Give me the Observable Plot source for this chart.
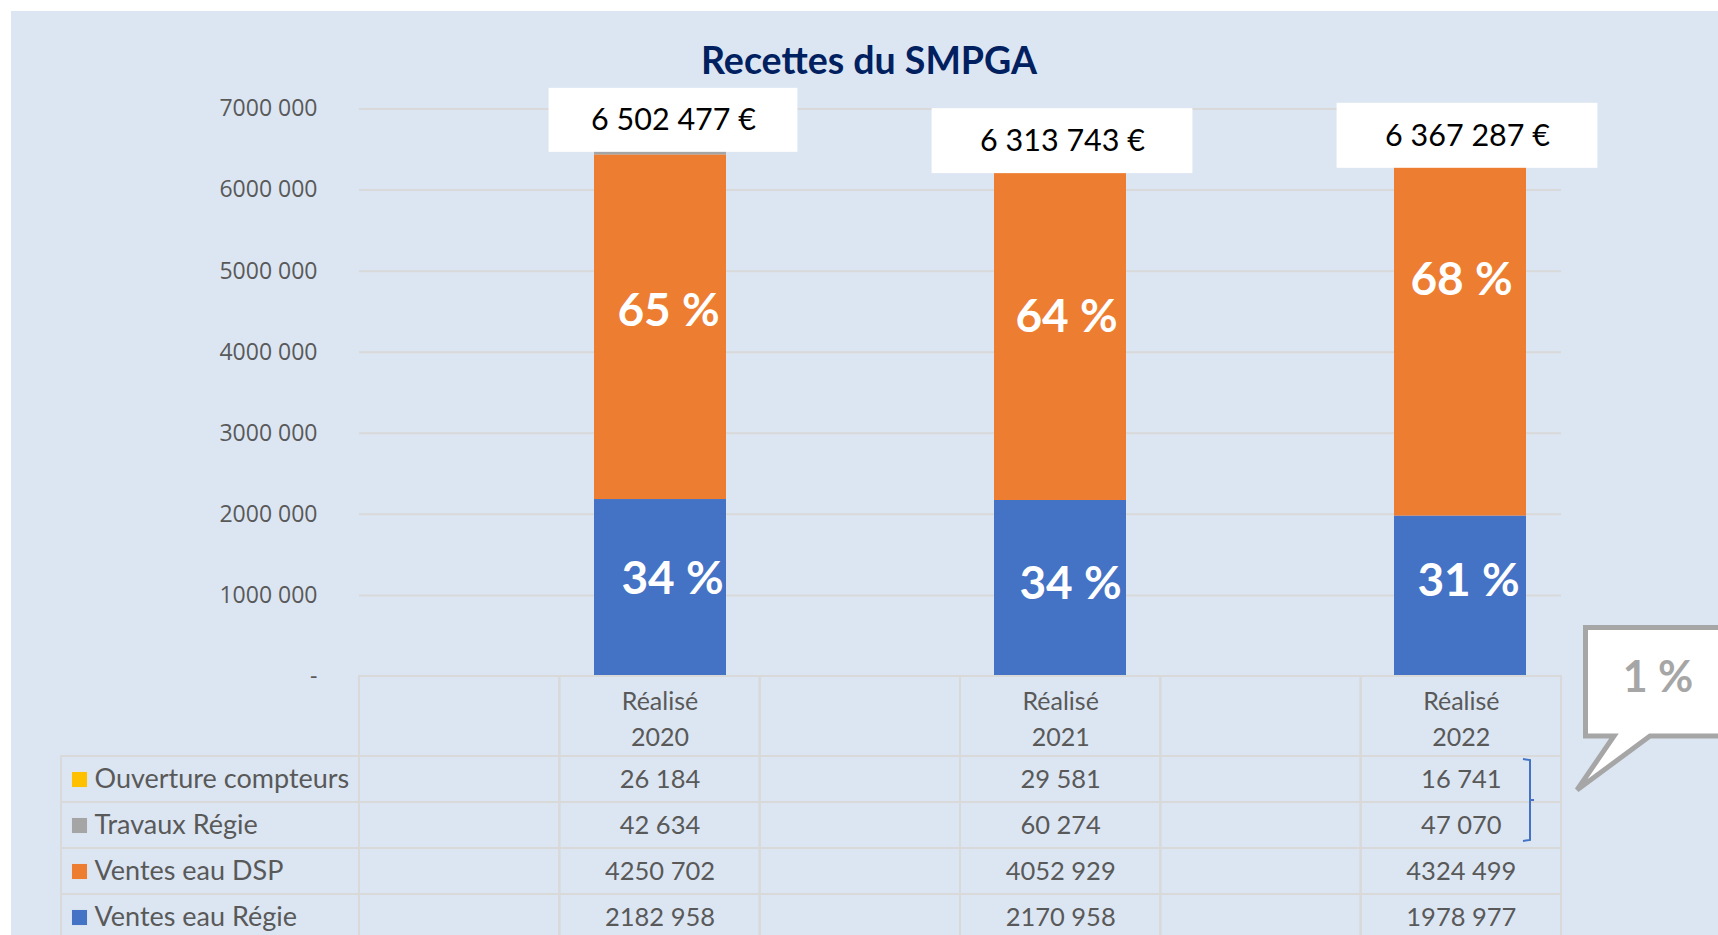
<!DOCTYPE html>
<html>
<head>
<meta charset="utf-8">
<script src="https://cdn.jsdelivr.net/npm/d3@7"></script>
<script src="https://cdn.jsdelivr.net/npm/@observablehq/plot@0.6"></script>
<style>
  html, body { margin: 0; padding: 0; background: #ffffff; overflow: hidden; }
  #page { position: relative; width: 1718px; height: 935px; overflow: hidden; background: #ffffff; }
  #bg { position: absolute; left: 11px; top: 11px; right: 0; bottom: 0; background: #dce6f2; }
  #title { position: absolute; left: 0; width: 1738px; top: 38px; line-height: 44px; text-align: center;
           font-family: Lato, sans-serif; font-weight: 700; font-size: 37.5px; color: #002060; }
  .layer { position: absolute; left: 0; }
</style>
</head>
<body>
<div id="page">
  <div id="bg"></div>
  <div id="title">Recettes du SMPGA</div>
  <div id="chart" class="layer" style="top:0"></div>
  <div id="table" class="layer" style="top:676px"></div>
  <div id="overlay" class="layer" style="top:0"></div>
</div>
<script>
// ---------------- data ----------------
const years = ["2020", "2021", "2022"];
const seriesNames = ["Ventes eau Régie", "Ventes eau DSP", "Travaux Régie", "Ouverture compteurs"];
const seriesColors = ["#4472c4", "#ed7d31", "#a5a5a5", "#ffc000"];
const ventesEauRegie = [2182958, 2170958, 1978977];
const ventesEauDSP = [4250702, 4052929, 4324499];
const travauxRegie = [42634, 60274, 47070];
const ouvertureCompteurs = [26184, 29581, 16741];
const totalLabels = [6502477, 6313743, 6367287];
const yTicks = [0, 1000000, 2000000, 3000000, 4000000, 5000000, 6000000, 7000000];
const tableRows = ["Ouverture compteurs", "Travaux Régie", "Ventes eau DSP", "Ventes eau Régie"];

// ---------------- layout / style constants ----------------
const W = 1718;
const frameLeft = 359, frameRight = 1561;
const labelColLeft = 61;
const headerH = 80, rowH = 46;
const textGray = "#595959";
const gridGray = "#d9d9d9";
// manual label placement (as in the original spreadsheet chart)
const boxStyle = {
  "2020": {dx: 13, dy: 3, w: 249, h: 64},
  "2021": {dx: 2, dy: 9, w: 261, h: 65},
  "2022": {dx: 7, dy: 8, w: 261, h: 65}
};
const pctStyle = {
  "2020": {"Ventes eau DSP": [8, -16], "Ventes eau Régie": [12, -9]},
  "2021": {"Ventes eau DSP": [6, -19], "Ventes eau Régie": [10, -4]},
  "2022": {"Ventes eau DSP": [1, -60], "Ventes eau Régie": [8, -15]}
};

// ---------------- derived tables ----------------
const seriesValues = {
  "Ventes eau Régie": ventesEauRegie,
  "Ventes eau DSP": ventesEauDSP,
  "Travaux Régie": travauxRegie,
  "Ouverture compteurs": ouvertureCompteurs
};
const catOf = y => "Réalisé " + y;
const xDomain = years.flatMap(y => ["gap" + y, catOf(y)]);
const rows = years.flatMap((y, i) => seriesNames.map(s => ({year: y, cat: catOf(y), series: s, value: seriesValues[s][i]})));
const sums = years.map((y, i) => seriesNames.reduce((a, s) => a + seriesValues[s][i], 0));
const totals = years.map((y, i) => ({year: y, cat: catOf(y), total: totalLabels[i]}));

const group3 = v => String(v).padStart(3, "0");
const fmtNum = v => v >= 1000 ? `${Math.floor(v / 1000)} ${group3(v % 1000)}` : String(v);
const fmtAxis = d => d === 0 ? "-" : fmtNum(d);
const fmtTotal = v => d3.format(",")(v).replace(/,/g, " ") + " €";
const pct = (v, i) => Math.round(100 * v / sums[i]) + " %";

const step = (frameRight - frameLeft) / xDomain.length;
const bandW = step * 0.66;

// ---------------- chart ----------------
const marks = [
  Plot.ruleY(yTicks.slice(1), {stroke: gridGray, strokeWidth: 2}),
  Plot.barY(rows, {x: "cat", y: "value", fill: "series"})
];
years.forEach((y, i) => {
  const b = boxStyle[y];
  const t = totals.filter(d => d.year === y);
  marks.push(Plot.barY(t, {x: "cat", y1: "total", y2: "total", fill: "white",
    dx: b.dx, dy: b.dy, insetTop: -b.h, insetBottom: 0,
    insetLeft: -(b.w - bandW) / 2, insetRight: -(b.w - bandW) / 2}));
  marks.push(Plot.text(t, {x: "cat", y: "total", text: d => fmtTotal(d.total),
    dx: b.dx, dy: b.dy - b.h / 2, fill: "#000000", fontFamily: "Lato", fontSize: 30.5}));
  ["Ventes eau DSP", "Ventes eau Régie"].forEach(s => {
    const [ox, oy] = pctStyle[y][s];
    marks.push(Plot.text(rows.filter(d => d.year === y && (d.series === "Ventes eau Régie" || d.series === s)),
      Plot.stackY({x: "cat", y: "value",
        text: d => d.series === s ? pct(d.value, i) : "",
        fill: "white", fontFamily: "Lato", fontWeight: 700, fontSize: 46, dx: ox, dy: oy})));
  });
});

const chart = Plot.plot({
  width: W, height: 756,
  marginLeft: frameLeft, marginRight: W - frameRight, marginTop: 108.5, marginBottom: 80,
  style: {background: "transparent", fontFamily: "'Open Sans', sans-serif", fontSize: "23px", color: textGray, overflow: "visible"},
  x: {domain: xDomain, paddingInner: 0.34, paddingOuter: 0.17, axis: null},
  y: {domain: [0, 7000000], ticks: yTicks, tickFormat: fmtAxis, tickSize: 0, tickPadding: 42, label: null},
  color: {domain: seriesNames, range: seriesColors},
  marks
});
document.getElementById("chart").append(chart);

// ---------------- data table ----------------
const labelCols = (frameLeft - labelColLeft) / step;
const headerRows = headerH / rowH;
const tableH = headerH + 4 * rowH;
const colIndex = y => xDomain.indexOf(catOf(y));

const headerCells = xDomain.map((k, c) => ({c}));
const bodyCells = tableRows.flatMap((r, ri) => [{c: -labelCols, w: labelCols, ri}, ...xDomain.map((k, c) => ({c, w: 1, ri}))]);
const valueCells = tableRows.flatMap((r, ri) => years.map((y, i) => ({ri, c: colIndex(y), v: seriesValues[r][i]})));

const table = Plot.plot({
  width: W, height: tableH, margin: 0,
  style: {background: "transparent", overflow: "visible"},
  x: {type: "linear", domain: [-labelCols, xDomain.length], range: [labelColLeft, frameRight], axis: null},
  y: {type: "linear", domain: [-headerRows, 4], range: [0, tableH], axis: null},
  marks: [
    Plot.rect(headerCells, {x1: d => d.c, x2: d => d.c + 1, y1: -headerRows, y2: 0, fill: "none", stroke: gridGray, strokeWidth: 2}),
    Plot.rect(bodyCells, {x1: d => d.c, x2: d => d.c + d.w, y1: d => d.ri, y2: d => d.ri + 1, fill: "none", stroke: gridGray, strokeWidth: 2}),
    Plot.text(years, {x: y => colIndex(y) + 0.5, y: -headerRows / 2, text: y => "Réalisé\n" + y, lineHeight: 1.45,
      fill: textGray, fontFamily: "Lato", fontSize: 25}),
    Plot.text(valueCells, {x: d => d.c + 0.5, y: d => d.ri + 0.5, text: d => fmtNum(d.v),
      fill: textGray, fontFamily: "Lato", fontSize: 25.5}),
    Plot.dot(tableRows, {x: -labelCols, y: (d, i) => i + 0.5, dx: 18, symbol: "square", r: 8.5,
      fill: d => seriesColors[seriesNames.indexOf(d)], stroke: "none"}),
    Plot.text(tableRows, {x: -labelCols, y: (d, i) => i + 0.5, dx: 33, textAnchor: "start", text: d => d,
      fill: textGray, fontFamily: "Lato", fontSize: 27})
  ]
});
document.getElementById("table").append(table);

// ---------------- annotations: bracket + callout ----------------
const smallShare = Math.round(100 * (travauxRegie[2] + ouvertureCompteurs[2]) / sums[2]) + " %";
const ns = "http://www.w3.org/2000/svg";
const ov = document.createElementNS(ns, "svg");
ov.setAttribute("width", W); ov.setAttribute("height", 935);
ov.innerHTML = `
  <path d="M1523,759 L1530,760 L1530,840 L1523,841 M1530,800 L1534,800" fill="none" stroke="#4472c4" stroke-width="2"/>
  <path d="M1650,736 L1745,736 L1745,627.5 L1585.5,627.5 L1585.5,736 L1614,736 L1577,790 Z" fill="#ffffff" stroke="#a6a6a6" stroke-width="5" stroke-linejoin="miter"/>
  <text x="1658" y="692" text-anchor="middle" font-family="Lato" font-weight="700" font-size="43" fill="#a6a6a6"></text>`;
ov.querySelector("text").textContent = smallShare;
document.getElementById("overlay").append(ov);
</script>
</body>
</html>
